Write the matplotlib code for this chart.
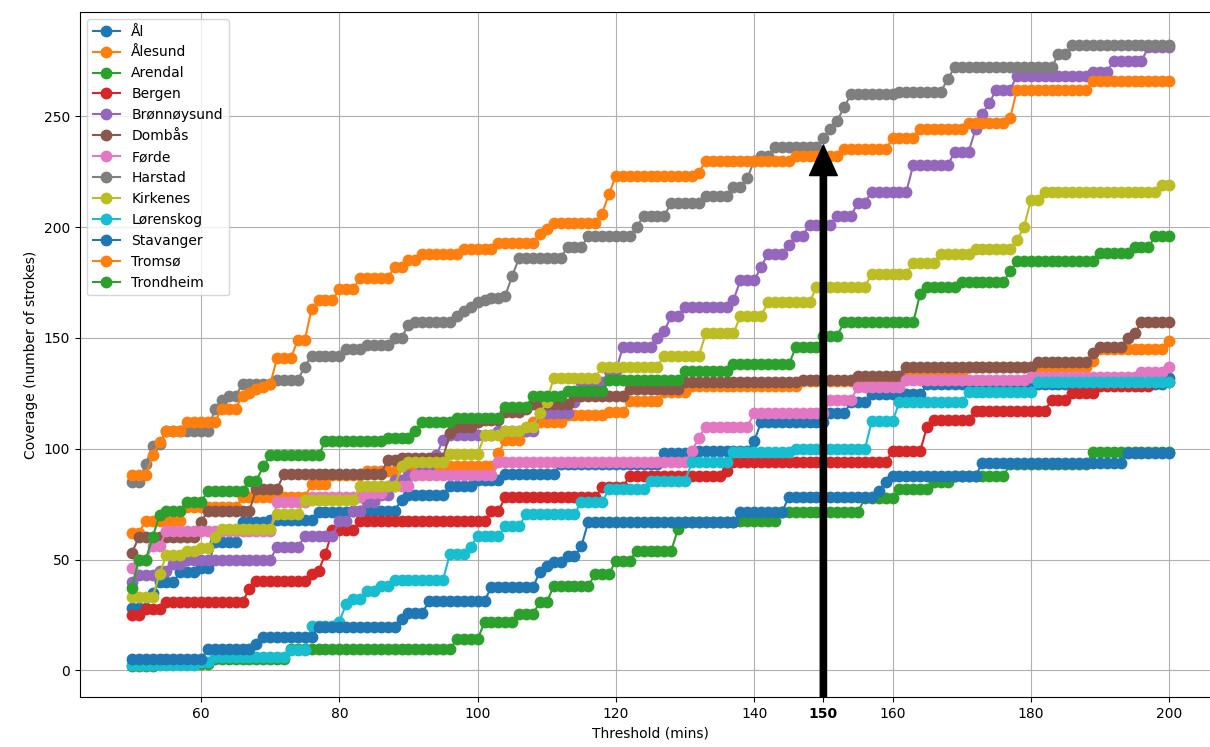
import matplotlib

matplotlib.use("Agg")
import matplotlib.pyplot as plt
import numpy as np

# Thresholds (mins), one marker per minute
thresholds = np.arange(50, 201)

# Coverage, stored as (threshold where value changes, new value)
al_steps = [(50, 28), (53, 35), (54, 40), (57, 44.5), (60, 46), (62, 58), (66, 67), (70, 68),
            (77, 71.4), (82, 72), (89, 77), (90, 79), (96, 83), (100, 86), (104, 88.5),
            (112, 93), (127, 98), (132, 99), (140, 103.5), (141, 112), (151, 116), (154, 121),
            (157, 124.5), (165, 129), (200, 132)]
alesund_steps = [(50, 62), (52, 67.5), (58, 73.6), (66, 78), (76, 84), (79, 88), (84, 90),
                 (89, 92), (103, 98), (104, 104), (107, 108), (108, 112), (113, 115),
                 (119, 116.4), (122, 121.5), (127, 125.4), (131, 128.3), (147, 130.5),
                 (162, 134.5), (171, 137), (189, 139.5), (190, 145), (200, 148.6)]
arendal_steps = [(50, 2), (54, 3), (62, 5), (73, 9.7), (97, 14), (101, 21.8), (106, 25.5),
                 (109, 30.8), (111, 38), (117, 43.5), (120, 49.5), (123, 54), (129, 64),
                 (130, 67), (138, 67.5), (144, 71.4), (156, 77.7), (161, 81.7), (166, 85),
                 (169, 87.7), (177, 93), (189, 98.4)]
bergen_steps = [(50, 25), (52, 27.7), (55, 31), (67, 36.7), (68, 40.4), (76, 43.5), (77, 45),
                (78, 52.5), (79, 63.5), (83, 67.5), (102, 72), (104, 78), (118, 82.7),
                (122, 87.7), (136, 90), (137, 94), (160, 99), (165, 110), (166, 113),
                (172, 117), (183, 122), (186, 125.3), (190, 128.3), (198, 130)]
bronnoysund_steps = [(50, 40), (51, 43), (54, 45), (56, 48), (58, 50), (71, 55.6), (75, 60.5),
                     (80, 67.5), (82, 72), (84, 76), (86, 79), (88, 86), (90, 88), (92, 92),
                     (94, 97), (95, 104), (96, 106), (103, 108), (109, 116), (114, 121),
                     (115, 130), (119, 135), (121, 146), (126, 150), (127, 153), (128, 160),
                     (130, 164), (137, 167), (138, 176), (141, 182), (142, 188), (145, 192),
                     (146, 196), (148, 201), (152, 205), (155, 211), (157, 216), (163, 228),
                     (169, 234), (172, 244), (173, 251), (174, 256), (175, 262), (178, 268),
                     (189, 270), (192, 275), (197, 281)]
dombas_steps = [(50, 53), (51, 60), (60, 67), (61, 72), (68, 82), (72, 88.5), (87, 95),
                (89, 96), (96, 107), (97, 110), (100, 112), (101, 113), (104, 116.5),
                (107, 118), (108, 120), (114, 124), (122, 127), (130, 130), (147, 131),
                (155, 133), (162, 137), (181, 139), (189, 143), (190, 146), (194, 150),
                (195, 152), (196, 157)]
forde_steps = [(50, 46), (51, 50), (53, 56), (55, 63), (71, 76), (76, 78), (84, 80), (87, 83),
               (91, 88), (103, 94), (131, 99), (132, 105), (133, 110), (140, 116), (151, 122),
               (155, 128), (162, 131), (180, 132.5), (196, 134.5), (200, 137)]
harstad_steps = [(50, 85), (52, 93), (53, 101), (54, 102), (55, 108), (62, 118), (63, 122),
                 (64, 124), (66, 129), (71, 131), (75, 137), (76, 142), (81, 145), (84, 147),
                 (88, 150), (90, 156), (91, 157), (97, 160), (98, 162), (99, 164), (100, 166),
                 (101, 167), (102, 168), (104, 169), (105, 178), (106, 186), (113, 191),
                 (116, 196), (123, 200), (124, 205), (128, 211), (133, 214), (137, 218),
                 (139, 222), (140, 230), (141, 232), (143, 236), (150, 240), (151, 244),
                 (152, 248), (153, 254), (154, 260), (161, 261), (168, 267), (169, 272),
                 (184, 278), (186, 282)]
kirkenes_steps = [(50, 33), (54, 43.5), (55, 52), (58, 54), (60, 55), (62, 60), (63, 64),
                  (71, 70.5), (75, 77), (83, 83), (89, 92), (90, 94), (96, 97.5), (101, 106),
                  (104, 108), (107, 110), (109, 116), (110, 121), (111, 132), (118, 137),
                  (127, 142), (133, 152), (138, 160), (142, 166), (149, 173), (157, 179),
                  (163, 184), (167, 188), (172, 190), (178, 194), (179, 200), (180, 212),
                  (182, 216), (199, 219)]
lorenskog_steps = [(50, 2.5), (60, 4), (62, 6), (73, 9), (76, 20), (80, 22), (81, 30),
                   (82, 32), (84, 36), (86, 38), (88, 41), (96, 52.5), (99, 55.6), (100, 60.7),
                   (104, 65), (107, 70.5), (115, 76), (119, 81.7), (125, 85.5), (131, 94),
                   (137, 98.4), (146, 99.8), (157, 112.5), (161, 121), (171, 125.4),
                   (181, 130)]
stavanger_steps = [(50, 5), (61, 9.7), (68, 12), (69, 15), (77, 19.6), (89, 23), (90, 26),
                   (93, 31.4), (102, 37.6), (109, 44.4), (110, 47), (111, 49), (113, 51.6),
                   (115, 56), (116, 67), (138, 71.4), (145, 78), (158, 81), (159, 85),
                   (160, 87.7), (173, 93.5), (194, 98)]
tromso_steps = [(50, 88), (53, 97), (54, 103), (55, 108), (58, 112), (63, 118), (66, 124),
                (67, 125), (68, 127), (69, 128), (70, 129), (71, 141), (74, 149), (76, 163),
                (77, 167), (80, 172), (83, 177), (88, 182), (90, 185), (92, 188), (98, 190),
                (103, 193), (109, 197), (110, 199), (111, 202), (118, 206), (119, 215),
                (120, 223), (132, 224.5), (133, 230), (146, 232), (153, 235), (160, 240),
                (164, 244), (171, 247), (177, 249), (178, 262), (189, 266)]
trondheim_steps = [(50, 37), (51, 50), (53, 60), (54, 70), (55, 72), (58, 76), (61, 81),
                   (67, 85.5), (69, 92), (70, 97), (78, 103.5), (87, 105), (91, 108),
                   (92, 112), (97, 114), (104, 118.7), (108, 124), (113, 126), (119, 131),
                   (130, 135), (137, 138), (146, 145.7), (150, 151), (153, 157), (164, 170),
                   (165, 173), (170, 175), (177, 180), (178, 184.6), (190, 188.5), (195, 191),
                   (198, 196)]

stations = ["Ål", "Ålesund", "Arendal", "Bergen", "Brønnøysund", "Dombås", "Førde",
            "Harstad", "Kirkenes", "Lørenskog", "Stavanger", "Tromsø", "Trondheim"]
station_steps = [al_steps, alesund_steps, arendal_steps, bergen_steps, bronnoysund_steps,
                 dombas_steps, forde_steps, harstad_steps, kirkenes_steps, lorenskog_steps,
                 stavanger_steps, tromso_steps, trondheim_steps]

highlight_threshold = 150
arrow_tip = 237


def coverage_curve(steps):
    """Hold each read value until the next change point."""
    change_x = np.array([s[0] for s in steps])
    values = np.array([s[1] for s in steps])
    idx = np.searchsorted(change_x, thresholds, side="right") - 1
    return values[idx]


fig = plt.figure(figsize=(12.1, 7.47), dpi=100)
# Axes run past the right edge: the reference is cropped there
ax = fig.add_axes([80 / 1210, 50 / 747, 1141 / 1210, 685 / 747])

for name, steps in zip(stations, station_steps):
    ax.plot(thresholds, coverage_curve(steps), marker="o", markersize=7.5, label=name)

ax.set_xlim(42.5, 207.5)
ax.set_ylim(-12, 297)
ax.set_xticks([60, 80, 100, 120, 140, 160, 180, 200])
ax.set_yticks([0, 50, 100, 150, 200, 250])
ax.grid(True)
ax.spines["right"].set_visible(False)

# Bold marker for the chosen threshold
ax.set_xticks([highlight_threshold], minor=True)
ax.set_xticklabels([str(highlight_threshold)], minor=True, fontweight="bold")
ax.tick_params(axis="x", which="minor", length=3.5, width=0.8, pad=3.5, labelsize=10)

ax.annotate(
    "",
    xy=(highlight_threshold, arrow_tip),
    xytext=(highlight_threshold, -12),
    arrowprops=dict(facecolor="black", edgecolor="black", width=4.5, headwidth=20, headlength=22),
    zorder=20,
)

ax.set_xlabel("Threshold (mins)")
ax.set_ylabel("Coverage (number of strokes)")
ax.legend(loc="upper left")

fig.savefig("out.png", dpi=100)
